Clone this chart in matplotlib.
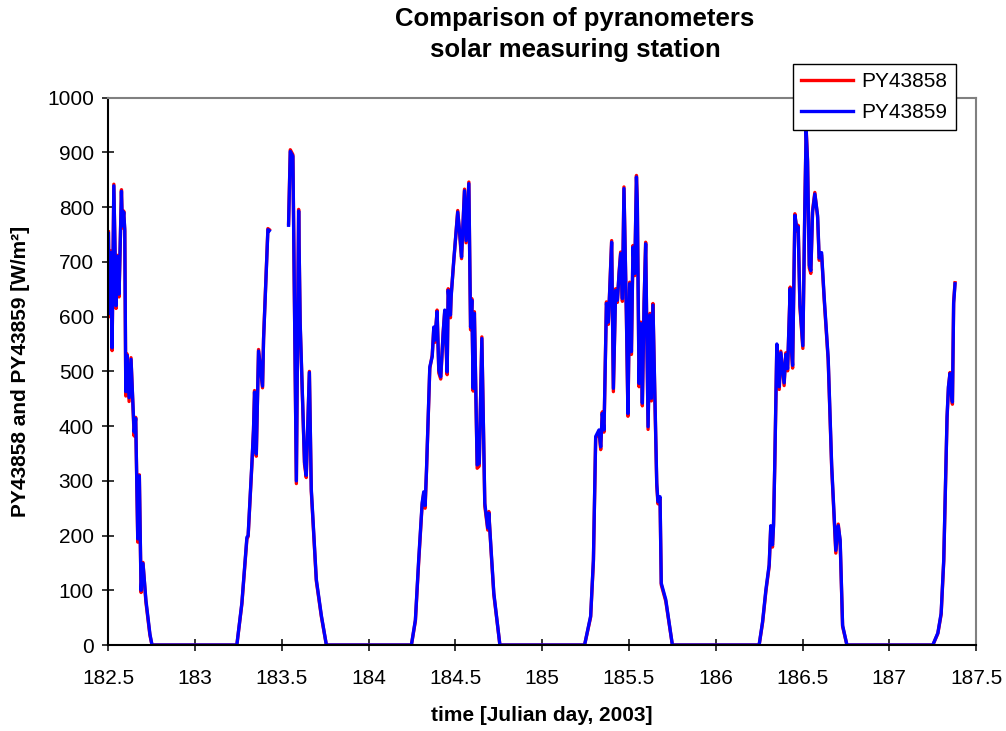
import matplotlib.pyplot as plt
import numpy as np

plt.rcParams['font.family'] = ['Liberation Sans', 'DejaVu Sans']

# day 182 (afternoon only)
d182_t = [182.500, 182.506, 182.513, 182.521, 182.531, 182.544, 182.552, 182.561, 182.575, 182.580,
          182.588, 182.594, 182.600, 182.607, 182.619, 182.630, 182.648, 182.657, 182.669, 182.678,
          182.688, 182.699, 182.716, 182.739, 182.751]
d182_py58 = [755, 600, 720, 538, 842, 615, 712, 636, 832, 762, 793, 756, 455, 532, 445, 525, 382, 416,
             188, 311, 96, 151, 78, 18, 0]
d182_py59 = [752, 606, 717, 543, 839, 620, 710, 641, 829, 766, 791, 760, 463, 529, 452, 522, 389, 414,
             194, 309, 100, 149, 82, 20, 0]

# day 183 (data gap around noon)
d183_t = [183.240, 183.269, 183.298, 183.305, 183.327, 183.336, 183.342, 183.352, 183.365, 183.388,
          183.394, 183.419, 183.427, 183.480, 183.538, 183.548, 183.563, 183.583, 183.596, 183.605,
          183.630, 183.640, 183.658, 183.669, 183.698, 183.727, 183.756]
d183_py58 = [0, 75, 194, 198, 331, 392, 465, 345, 540, 470, 561, 761, 759, np.nan, 770, 905, 896, 295,
             796, 585, 330, 306, 500, 281, 117, 52, 0]
d183_py59 = [0, 77, 197, 200, 334, 394, 462, 349, 537, 473, 558, 759, 757, np.nan, 767, 902, 893, 300,
             793, 588, 334, 310, 498, 285, 120, 54, 0]

# day 184
d184_t = [184.246, 184.269, 184.288, 184.308, 184.317, 184.325, 184.333, 184.352, 184.366, 184.375,
          184.381, 184.394, 184.404, 184.415, 184.429, 184.438, 184.452, 184.458, 184.471, 184.475,
          184.490, 184.513, 184.525, 184.535, 184.552, 184.561, 184.577, 184.587, 184.594, 184.602,
          184.609, 184.625, 184.637, 184.652, 184.669, 184.686, 184.692, 184.706, 184.721, 184.756]
d184_py58 = [0, 44, 152, 257, 277, 250, 318, 505, 530, 578, 553, 612, 497, 486, 572, 609, 494, 651,
             598, 639, 700, 794, 747, 706, 833, 735, 846, 576, 633, 464, 609, 323, 327, 563, 254, 210,
             244, 167, 92, 0]
d184_py59 = [0, 46, 156, 260, 280, 255, 320, 508, 527, 581, 557, 609, 502, 490, 569, 612, 499, 648,
             603, 636, 703, 791, 751, 709, 830, 739, 843, 581, 630, 469, 606, 329, 332, 560, 259, 214,
             241, 171, 95, 0]

# day 185
d185_t = [185.244, 185.279, 185.295, 185.308, 185.327, 185.337, 185.346, 185.356, 185.370, 185.381,
          185.389, 185.400, 185.410, 185.423, 185.433, 185.443, 185.452, 185.462, 185.471, 185.485,
          185.494, 185.504, 185.514, 185.523, 185.533, 185.543, 185.548, 185.558, 185.568, 185.577,
          185.587, 185.596, 185.610, 185.621, 185.629, 185.638, 185.648, 185.660, 185.667, 185.679,
          185.686, 185.712, 185.750]
d185_py58 = [0, 51, 153, 378, 390, 357, 426, 389, 627, 586, 651, 739, 463, 651, 626, 682, 718, 628,
             837, 601, 418, 663, 531, 730, 675, 858, 809, 472, 590, 437, 627, 736, 394, 606, 446, 624,
             467, 291, 258, 268, 110, 80, 0]
d185_py59 = [0, 53, 156, 381, 393, 362, 423, 393, 624, 590, 648, 736, 469, 648, 630, 679, 715, 633,
             834, 606, 423, 660, 536, 727, 679, 855, 806, 478, 587, 442, 624, 733, 399, 603, 451, 621,
             472, 296, 262, 271, 113, 83, 0]

# day 186
d186_t = [186.250, 186.270, 186.289, 186.308, 186.317, 186.327, 186.333, 186.340, 186.352, 186.366,
          186.375, 186.394, 186.404, 186.414, 186.429, 186.433, 186.443, 186.456, 186.468, 186.475,
          186.485, 186.502, 186.513, 186.521, 186.529, 186.539, 186.548, 186.558, 186.571, 186.587,
          186.596, 186.610, 186.625, 186.648, 186.668, 186.683, 186.692, 186.706, 186.717, 186.731,
          186.756]
d186_py58 = [0, 41, 98, 144, 215, 179, 221, 326, 546, 467, 537, 474, 534, 501, 654, 552, 506, 788,
             756, 767, 618, 542, 794, 944, 886, 689, 679, 794, 827, 781, 703, 713, 631, 520, 325, 227,
             168, 221, 188, 34, 0]
d186_py59 = [0, 43, 101, 147, 218, 183, 218, 329, 550, 472, 534, 479, 531, 505, 651, 557, 511, 785,
             759, 764, 622, 547, 791, 941, 883, 694, 684, 791, 824, 785, 707, 717, 635, 524, 329, 231,
             173, 218, 192, 36, 0]

# day 187 (morning only)
d187_t = [187.251, 187.280, 187.299, 187.314, 187.323, 187.333, 187.341, 187.350, 187.356, 187.364,
          187.371, 187.379]
d187_py58 = [0, 21, 56, 153, 275, 414, 470, 498, 462, 440, 627, 662]
d187_py59 = [0, 22, 58, 156, 278, 417, 472, 496, 465, 444, 624, 660]

x_ticks = [182.5, 183, 183.5, 184, 184.5, 185, 185.5, 186, 186.5, 187, 187.5]
x_ticklabels = ['182.5', '183', '183.5', '184', '184.5', '185', '185.5', '186', '186.5', '187', '187.5']
y_ticks = [0, 100, 200, 300, 400, 500, 600, 700, 800, 900, 1000]

t = np.concatenate([d182_t, d183_t, d184_t, d185_t, d186_t, d187_t])
py58 = np.concatenate([d182_py58, d183_py58, d184_py58, d185_py58, d186_py58, d187_py58])
py59 = np.concatenate([d182_py59, d183_py59, d184_py59, d185_py59, d186_py59, d187_py59])

fig = plt.figure(figsize=(10.06, 7.31), dpi=100)
ax = fig.add_axes([0.1078, 0.1176, 0.8624, 0.7487])

ax.plot(t, py58, color='#ff0000', lw=2.4, label='PY43858', solid_joinstyle='round')
ax.plot(t, py59, color='#0000ff', lw=2.4, label='PY43859', solid_joinstyle='round')

ax.set_xlim(182.5, 187.5)
ax.set_ylim(0, 1000)
ax.set_xticks(x_ticks)
ax.set_xticklabels(x_ticklabels)
ax.set_yticks(y_ticks)
ax.tick_params(direction='inout', length=9, width=1.1, labelsize=15, color='black')
ax.tick_params(axis='x', pad=13)
ax.tick_params(axis='y', pad=6)

for side in ['left', 'bottom']:
    ax.spines[side].set_color('black')
    ax.spines[side].set_linewidth(1.5)
for side in ['top', 'right']:
    ax.spines[side].set_color('#808080')
    ax.spines[side].set_linewidth(1.5)

ax.set_xlabel('time [Julian day, 2003]', fontsize=15, fontweight='bold', labelpad=13)
ax.set_ylabel('PY43858 and PY43859 [W/m\u00b2]', fontsize=15, fontweight='bold', labelpad=12)

fig.text(0.5716, 0.9525, 'Comparison of pyranometers\nsolar measuring station', ha='center', va='center',
         fontsize=18.5, fontweight='bold', linespacing=1.36)

leg = ax.legend(loc='upper left', bbox_to_anchor=(0.788, 0.9124), bbox_transform=fig.transFigure,
                borderaxespad=0, fontsize=15, handlelength=2.5, fancybox=False, framealpha=1,
                edgecolor='black', borderpad=0.4, labelspacing=0.55, handletextpad=0.4)
leg.get_frame().set_linewidth(1.0)

fig.savefig('out.png', dpi=100)
